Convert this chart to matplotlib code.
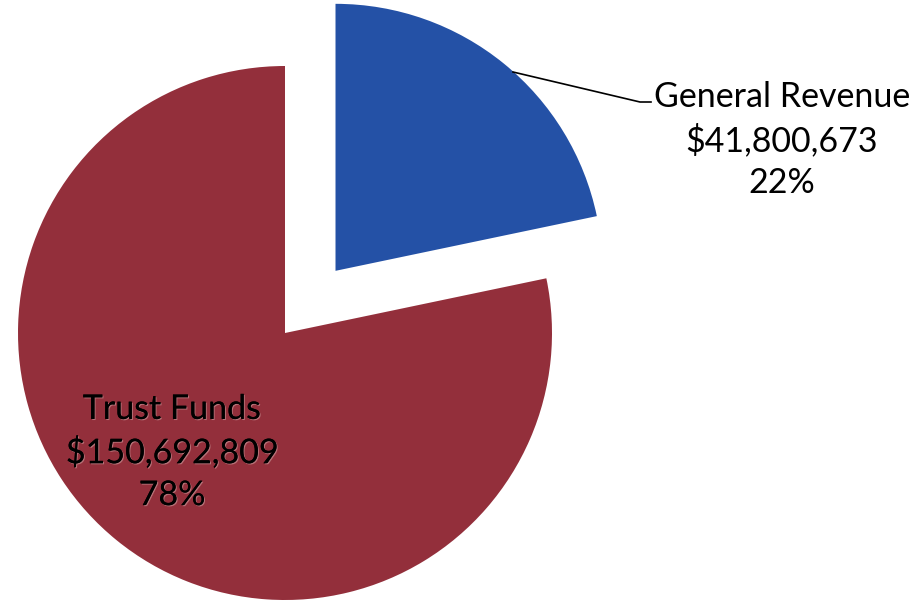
import matplotlib.pyplot as plt
import matplotlib.patheffects as pe

# funding sources, dollars
sources = ["General Revenue", "Trust Funds"]
amounts = [41800673, 150692809]
colors = ["#2451A6", "#932F3B"]
explode = [0.30, 0.0]   # fraction of the radius

total = sum(amounts)
pcts = [a / total * 100 for a in amounts]

fig = plt.figure(figsize=(9.17, 6.04), dpi=100)
ax = fig.add_axes([0, 0, 1, 1])

# axes work in pixel units so the pie sits where we want it;
# pie() takes explode in data units, so scale it by the radius
R = 267
CX, CY = 285, 271
ax.pie(amounts, colors=colors, explode=[e * R for e in explode],
       startangle=90, counterclock=False, radius=R, center=(CX, CY),
       wedgeprops=dict(linewidth=0))

ax.set_xlim(0, 917)
ax.set_ylim(0, 604)
ax.set_aspect("equal")
ax.axis("off")

font = dict(family=["Lato", "DejaVu Sans"], fontsize=24.5, color="black")

gr = f"{sources[0]}\n${amounts[0]:,}\n{pcts[0]:.0f}%"
ax.text(782, 464, gr, ha="center", va="center", linespacing=1.38, **font)

tf = f"{sources[1]}\n${amounts[1]:,}\n{pcts[1]:.0f}%"
t = ax.text(172, 152, tf, ha="center", va="center", linespacing=1.38, **font)
t.set_path_effects([pe.withSimplePatchShadow(offset=(0.8, -0.8),
                                             shadow_rgbFace="#d9b3b3", alpha=0.5),
                    pe.Normal()])

# leader line to the outside label
ax.plot([513, 640, 651], [532, 502, 502], color="black", lw=1.2)

fig.savefig("out.png", dpi=100)
